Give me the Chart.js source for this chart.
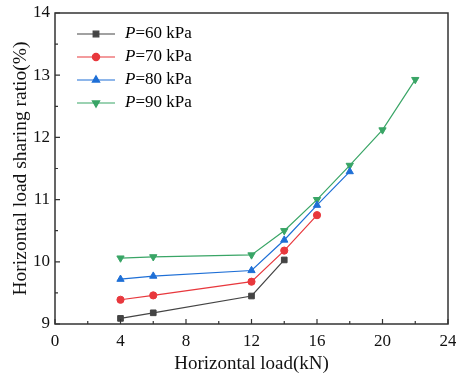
<!DOCTYPE html>
<html>
<head>
<meta charset="utf-8">
<script src="https://cdn.jsdelivr.net/npm/chart.js@4"></script>
<style>
  html, body { margin: 0; padding: 0; background: #fff; }
  #wrap { width: 456px; height: 378px; position: relative; }
</style>
</head>
<body>
<div id="wrap"><canvas id="myChart" width="456" height="378"></canvas></div>
<script>
// data
var pressures = ['60', '70', '80', '90'];
var load60 = [4, 6, 12, 14];
var ratio60 = [9.09, 9.18, 9.45, 10.03];
var load70 = [4, 6, 12, 14, 16];
var ratio70 = [9.39, 9.46, 9.68, 10.18, 10.75];
var load80 = [4, 6, 12, 14, 16, 18];
var ratio80 = [9.72, 9.77, 9.86, 10.35, 10.91, 11.45];
var load90 = [4, 6, 12, 14, 16, 18, 20, 22];
var ratio90 = [10.06, 10.08, 10.11, 10.5, 11.0, 11.55, 12.12, 12.93];
var xTicks = [0, 4, 8, 12, 16, 20, 24];
var yTicks = [9, 10, 11, 12, 13, 14];

var colors = ['#444444', '#e8383d', '#1e6fd6', '#39a566'];
var styles = ['rect', 'circle', 'triangle', 'triangle'];
var rotations = [0, 0, 0, 180];
var radii = [4, 3.6, 4.2, 4.2];
var serif = "'Liberation Serif', 'DejaVu Serif', serif";

function pts(xs, ys) {
  return xs.map(function (x, i) { return { x: x, y: ys[i] }; });
}

var series = [pts(load60, ratio60), pts(load70, ratio70), pts(load80, ratio80), pts(load90, ratio90)];

var datasets = series.map(function (d, i) {
  return {
    label: 'P=' + pressures[i] + ' kPa',
    data: d,
    borderColor: colors[i],
    backgroundColor: colors[i],
    borderWidth: 1.2,
    pointBorderWidth: 1,
    pointStyle: styles[i],
    pointRotation: rotations[i],
    pointRadius: radii[i],
    pointHoverRadius: radii[i],
    tension: 0
  };
});

// frame, inward ticks and the legend
var axesPlugin = {
  id: 'axesPlugin',
  afterDraw: function (chart) {
    var c = chart.ctx, a = chart.chartArea;
    var xs = chart.scales.x, ys = chart.scales.y;
    c.save();
    c.strokeStyle = '#333';
    c.lineWidth = 1.5;
    c.strokeRect(a.left, a.top, a.right - a.left, a.bottom - a.top);
    c.lineWidth = 1.2;
    c.beginPath();
    for (var v = 0; v <= 24; v += 2) {
      var px = xs.getPixelForValue(v);
      var len = v % 4 === 0 ? 5 : 3;
      c.moveTo(px, a.bottom); c.lineTo(px, a.bottom - len);
    }
    for (var w = 9; w <= 14; w += 0.5) {
      var py = ys.getPixelForValue(w);
      var l2 = w % 1 === 0 ? 5 : 3;
      c.moveTo(a.left, py); c.lineTo(a.left + l2, py);
    }
    c.stroke();

    // legend
    for (var i = 0; i < pressures.length; i++) {
      var y = 34 + i * 23;
      c.strokeStyle = colors[i];
      c.lineWidth = 1.2;
      c.beginPath(); c.moveTo(77, y); c.lineTo(115, y); c.stroke();
      c.fillStyle = colors[i];
      Chart.helpers.drawPoint(c, {
        pointStyle: styles[i], rotation: rotations[i], radius: radii[i],
        borderWidth: 1
      }, 96, y);
      c.fillStyle = '#000';
      c.textBaseline = 'middle';
      c.textAlign = 'left';
      c.font = 'italic 17px ' + serif;
      c.fillText('P', 125, y);
      var pw = c.measureText('P').width;
      c.font = '17px ' + serif;
      c.fillText('=' + pressures[i] + ' kPa', 125 + pw, y);
    }
    c.restore();
  }
};

new Chart(document.getElementById('myChart'), {
  type: 'line',
  data: { datasets: datasets },
  options: {
    responsive: false,
    animation: false,
    layout: { padding: { top: 13, right: 8, left: 9, bottom: 0 } },
    plugins: { legend: { display: false }, tooltip: { enabled: false } },
    scales: {
      x: {
        type: 'linear',
        min: 0, max: 24,
        afterFit: function (s) { s.height = 54; s.paddingLeft = 0; s.paddingRight = 0; },
        afterBuildTicks: function (s) { s.ticks = xTicks.map(function (v) { return { value: v }; }); },
        grid: { display: false, drawTicks: false },
        border: { display: false },
        ticks: { color: '#111', padding: 7, maxRotation: 0, font: { family: serif, size: 17 } },
        title: { display: true, text: 'Horizontal load(kN)', color: '#111', padding: { top: 0, bottom: 3 }, font: { family: serif, size: 19 } }
      },
      y: {
        min: 9, max: 14,
        afterFit: function (s) { s.width = 46; s.paddingTop = 0; s.paddingBottom = 0; },
        afterBuildTicks: function (s) { s.ticks = yTicks.map(function (v) { return { value: v }; }); },
        grid: { display: false, drawTicks: false },
        border: { display: false },
        ticks: { color: '#111', padding: 5, font: { family: serif, size: 17 } },
        title: { display: true, text: 'Horizontal load sharing ratio(%)', color: '#111', padding: { top: 0, bottom: 0 }, font: { family: serif, size: 19.5 } }
      }
    }
  },
  plugins: [axesPlugin]
});
</script>
</body>
</html>
